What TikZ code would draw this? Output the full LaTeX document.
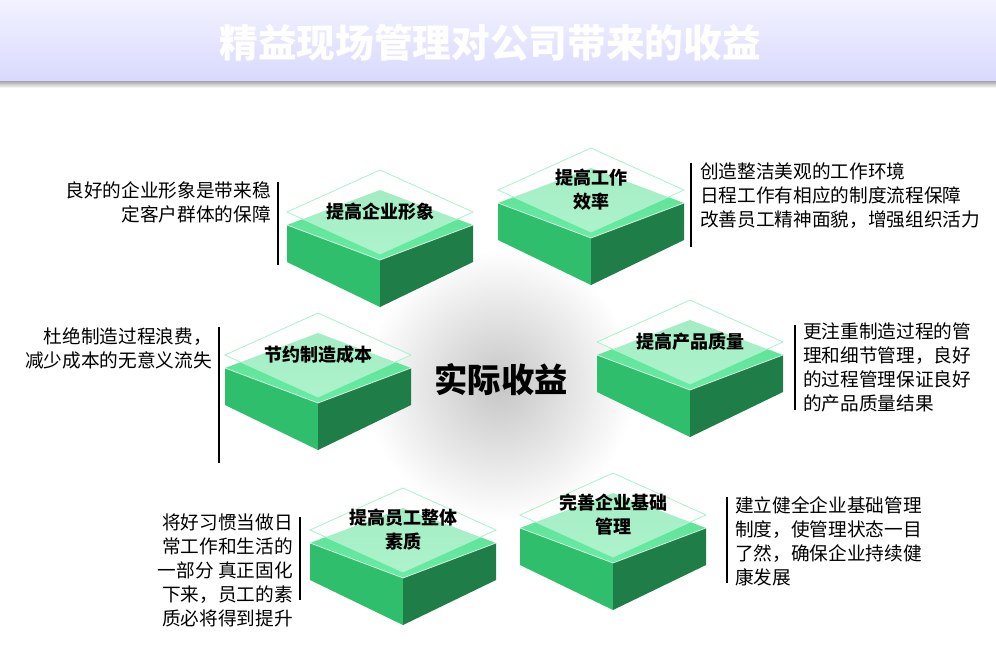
\documentclass[tikz,border=0pt]{standalone}
\usepackage{fontspec}
\setmainfont{Noto Sans CJK SC}
\usetikzlibrary{shadings}
\definecolor{gl}{HTML}{2EBE6C}
\definecolor{gd}{HTML}{1F7D48}
\definecolor{gt}{HTML}{5ADE92}
\definecolor{tl}{HTML}{6BEBA5}
\tikzset{
 note/.style={font=\fontsize{14pt}{18pt}\selectfont, inner sep=0pt},
 title/.style={font=\fontsize{13.5pt}{18pt}\selectfont\bfseries, align=center, inner sep=0pt},
 bar/.style={line width=1.6pt}
}
\newcommand{\blk}[4]{% cx cy name label
 \fill[gl] (#1-93,#2) -- (#1,#2+35) -- (#1,#2+82) -- (#1-93,#2+37) -- cycle;
 \fill[gd] (#1+93,#2) -- (#1,#2+35) -- (#1,#2+82) -- (#1+93,#2+37) -- cycle;
 \shade[top color=gt, bottom color=tl] (#1-93,#2) -- (#1,#2-35) -- (#1+93,#2) -- (#1,#2+35) -- cycle;
 \draw[white,opacity=0.7,line width=0.6pt] (#1-93,#2) -- (#1,#2+35) -- (#1+93,#2);
 \fill[white,opacity=0.45] (#1-93,#2-13) -- (#1,#2-55) -- (#1+93,#2-13) -- (#1,#2+29) -- cycle;
 \draw[color=tl!60,line width=0.6pt] (#1-93,#2-13) -- (#1,#2-55) -- (#1+93,#2-13) -- (#1,#2+29) -- cycle;
 \node[title] (#3) at (#1,#2-13) {#4};
}
\begin{document}
\begin{tikzpicture}[x=0.75pt,y=-0.75pt]
\useasboundingbox (0,0) rectangle (996,669);
\fill[white] (0,0) rectangle (996,669);
\shade[top color=blue!5, bottom color=blue!15] (0,0) rectangle (996,81);
\shade[top color=gray!70, bottom color=white] (0,81) rectangle (996,88);
\node[font=\fontsize{29pt}{32pt}\selectfont\bfseries, text=white] (ttl) at (490,43) {精益现场管理对公司带来的收益};
\shade[inner color=gray!45, outer color=white] (500,385) circle (135);
\node[font=\fontsize{25pt}{28pt}\selectfont\bfseries] (ctr) at (501,380) {实际收益};
\blk{380}{225}{b1}{提高企业形象}
\blk{591}{203}{b2}{提高工作\\效率}
\blk{318}{368}{b3}{节约制造成本}
\blk{690}{355}{b4}{提高产品质量}
\blk{403}{543}{b5}{提高员工整体\\素质}
\blk{613}{528}{b6}{完善企业基础\\管理}
\draw[bar] (278,182) -- (278,265);
\node[note, align=right, anchor=north east] (t1) at (271,181) {良好的企业形象是带来稳\\定客户群体的保障};
\draw[bar] (691,163) -- (691,247);
\node[note, align=left, anchor=north west] (t2) at (700,162) {创造整洁美观的工作环境\\日程工作有相应的制度流程保障\\改善员工精神面貌，增强组织活力};
\draw[bar] (219,327) -- (219,463);
\node[note, align=right, anchor=north east] (t3) at (212,327) {杜绝制造过程浪费，\\减少成本的无意义流失};
\draw[bar] (795,325) -- (795,410);
\node[note, align=left, anchor=north west] (t4) at (803,322) {更注重制造过程的管\\理和细节管理，良好\\的过程管理保证良好\\的产品质量结果};
\draw[bar] (300,517) -- (300,600);
\node[note, align=right, anchor=north east] (t5) at (293,514) {将好习惯当做日\\常工作和生活的\\一部分 真正固化\\下来，员工的素\\质必将得到提升};
\draw[bar] (727,497) -- (727,583);
\node[note, align=left, anchor=north west] (t6) at (735,496) {建立健全企业基础管理\\制度，使管理状态一目\\了然，确保企业持续健\\康发展};
\end{tikzpicture}
\end{document}
